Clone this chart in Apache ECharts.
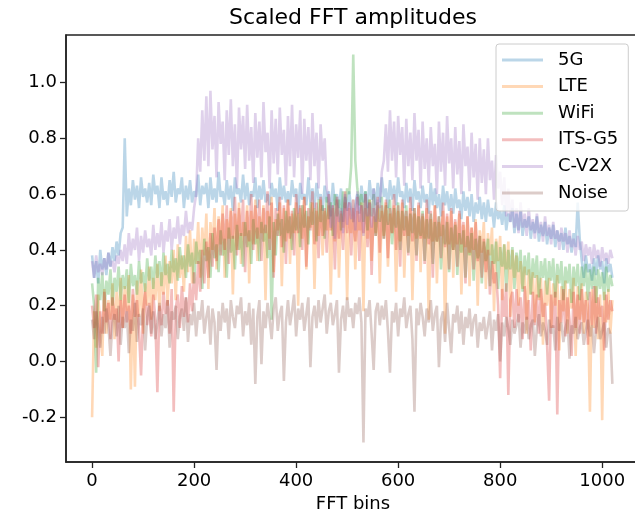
<!DOCTYPE html>
<html>
<head>
<meta charset="utf-8">
<script src="https://cdn.jsdelivr.net/npm/echarts@6/dist/echarts.min.js"></script>
<style>
  html, body { margin: 0; padding: 0; background: #fff; }
  #chart { width: 635px; height: 516px; }
</style>
</head>
<body>
<div id="chart"></div>
<script>
// FFT bins sampled every 4 bins (0 .. 1020), one row = 64 bins
const BIN_STEP = 4;
const seriesNames = ['5G', 'LTE', 'WiFi', 'ITS-G5', 'C-V2X', 'Noise'];
const xTicks = [0, 200, 400, 600, 800, 1000];
const yTicks = [-0.2, 0.0, 0.2, 0.4, 0.6, 0.8, 1.0];

const fiveG = [
  0.38, 0.30, 0.36, 0.28, 0.40, 0.33, 0.37, 0.31, 0.39, 0.34, 0.41, 0.36, 0.43, 0.38, 0.46, 0.48,
  0.80, 0.52, 0.62, 0.56, 0.65, 0.58, 0.63, 0.55, 0.66, 0.59, 0.62, 0.57, 0.64, 0.56, 0.67, 0.60,
  0.63, 0.55, 0.66, 0.58, 0.61, 0.56, 0.65, 0.59, 0.68, 0.57, 0.62, 0.60, 0.66, 0.55, 0.63, 0.58,
  0.65, 0.57, 0.61, 0.59, 0.67, 0.56, 0.63, 0.60, 0.64, 0.55, 0.66, 0.58, 0.62, 0.57, 0.68, 0.59,
  0.61, 0.56, 0.65, 0.58, 0.63, 0.54, 0.66, 0.60, 0.62, 0.57, 0.67, 0.58, 0.64, 0.56, 0.61, 0.59,
  0.66, 0.55, 0.63, 0.58, 0.65, 0.57, 0.60, 0.56, 0.64, 0.59, 0.62, 0.54, 0.66, 0.58, 0.63, 0.57,
  0.61, 0.56, 0.65, 0.59, 0.62, 0.53, 0.64, 0.58, 0.60, 0.56, 0.66, 0.57, 0.62, 0.55, 0.64, 0.58,
  0.60, 0.54, 0.63, 0.57, 0.61, 0.52, 0.64, 0.56, 0.60, 0.55, 0.62, 0.50, 0.59, 0.54, 0.61, 0.55,
  0.50, 0.56, 0.60, 0.53, 0.63, 0.57, 0.61, 0.55, 0.65, 0.58, 0.62, 0.56, 0.64, 0.57, 0.66, 0.59,
  0.62, 0.55, 0.65, 0.58, 0.63, 0.56, 0.66, 0.59, 0.61, 0.55, 0.64, 0.57, 0.62, 0.54, 0.65, 0.58,
  0.61, 0.55, 0.63, 0.57, 0.60, 0.53, 0.64, 0.56, 0.62, 0.55, 0.60, 0.52, 0.63, 0.56, 0.61, 0.54,
  0.60, 0.53, 0.62, 0.55, 0.58, 0.51, 0.61, 0.54, 0.59, 0.52, 0.60, 0.50, 0.57, 0.53, 0.59, 0.51,
  0.57, 0.50, 0.58, 0.52, 0.55, 0.48, 0.57, 0.51, 0.54, 0.49, 0.56, 0.47, 0.53, 0.50, 0.55, 0.46,
  0.53, 0.47, 0.54, 0.45, 0.51, 0.48, 0.52, 0.44, 0.50, 0.46, 0.52, 0.43, 0.49, 0.45, 0.50, 0.42,
  0.48, 0.44, 0.49, 0.41, 0.47, 0.43, 0.46, 0.40, 0.48, 0.42, 0.45, 0.39, 0.46, 0.41, 0.57, 0.44,
  0.36, 0.30, 0.38, 0.32, 0.35, 0.29, 0.37, 0.31, 0.38, 0.33, 0.36, 0.28, 0.37, 0.32, 0.35, 0.30
];

const lte = [
  -0.20, 0.18, 0.05, 0.24, 0.12, 0.02, 0.26, 0.10, 0.22, 0.15, 0.28, 0.08, 0.25, 0.14, 0.30, 0.12,
  0.27, 0.18, 0.31, -0.10, 0.24, -0.09, 0.29, 0.16, 0.33, 0.10, 0.28, 0.20, 0.34, 0.15, 0.30, 0.22,
  0.35, 0.18, 0.32, 0.24, 0.38, 0.20, 0.36, 0.28, 0.40, 0.22, 0.42, 0.30, 0.38, 0.25, 0.45, 0.32,
  0.47, 0.28, 0.44, 0.35, 0.50, 0.30, 0.48, 0.38, 0.53, 0.26, 0.50, 0.40, 0.55, 0.33, 0.52, 0.42,
  0.56, 0.30, 0.51, 0.44, 0.55, 0.24, 0.53, 0.40, 0.57, 0.35, 0.50, 0.45, 0.56, 0.28, 0.54, 0.42,
  0.58, 0.36, 0.52, 0.46, 0.56, 0.22, 0.54, 0.44, 0.59, 0.32, 0.51, 0.47, 0.57, 0.27, 0.55, 0.43,
  0.58, 0.35, 0.53, 0.46, 0.57, 0.20, 0.55, 0.44, 0.59, 0.33, 0.52, 0.48, 0.57, 0.26, 0.54, 0.45,
  0.58, 0.38, 0.54, 0.47, 0.56, 0.24, 0.55, 0.43, 0.59, 0.30, 0.53, 0.48, 0.57, 0.22, 0.55, 0.46,
  0.58, 0.33, 0.54, 0.47, 0.57, 0.18, 0.55, 0.44, 0.58, 0.36, 0.52, 0.46, 0.56, 0.28, 0.54, 0.45,
  0.57, 0.34, 0.53, 0.46, 0.56, 0.25, 0.54, 0.43, 0.57, 0.30, 0.52, 0.45, 0.55, 0.22, 0.53, 0.44,
  0.56, 0.32, 0.52, 0.44, 0.55, 0.15, 0.51, 0.43, 0.56, 0.28, 0.50, 0.45, 0.54, 0.10, 0.52, 0.42,
  0.54, 0.30, 0.50, 0.42, 0.53, 0.24, 0.49, 0.41, 0.52, 0.27, 0.48, 0.40, 0.51, 0.20, 0.47, 0.39,
  0.50, 0.26, 0.46, 0.38, 0.48, 0.18, 0.44, 0.36, 0.45, 0.22, 0.42, 0.33, 0.43, 0.16, 0.40, 0.30,
  0.38, 0.20, 0.36, 0.26, 0.34, 0.10, 0.33, 0.24, 0.32, 0.14, 0.31, 0.22, 0.30, 0.06, 0.29, 0.20,
  0.30, 0.12, 0.28, 0.20, 0.31, 0.04, 0.27, 0.18, 0.29, 0.10, 0.26, 0.19, 0.30, 0.02, 0.27, 0.15,
  0.28, 0.10, 0.25, 0.20, -0.18, 0.26, 0.12, 0.27, 0.08, 0.24, -0.21, 0.25, 0.14, 0.26, 0.10, 0.22
];

const wifi = [
  0.28, 0.20, -0.04, 0.30, 0.22, 0.32, 0.18, 0.29, 0.24, 0.33, 0.20, 0.30, 0.25, 0.34, 0.22, 0.31,
  0.26, 0.33, 0.21, 0.35, 0.27, 0.31, 0.24, 0.36, 0.28, 0.32, 0.25, 0.37, 0.29, 0.34, 0.26, 0.38,
  0.30, 0.36, 0.27, 0.39, 0.31, 0.35, 0.28, 0.40, 0.32, 0.37, 0.29, 0.41, 0.33, 0.38, 0.30, 0.42,
  0.34, 0.39, 0.28, 0.43, 0.35, 0.40, 0.26, 0.44, 0.36, 0.41, 0.30, 0.46, 0.37, 0.42, 0.32, 0.47,
  0.38, 0.44, 0.30, 0.48, 0.39, 0.45, 0.33, 0.49, 0.40, 0.46, 0.34, 0.50, 0.41, 0.47, 0.35, 0.51,
  0.42, 0.48, 0.36, 0.50, 0.43, 0.49, 0.37, 0.52, 0.15, 0.50, 0.38, 0.53, 0.45, 0.51, 0.39, 0.54,
  0.46, 0.52, 0.40, 0.55, 0.47, 0.53, 0.41, 0.56, 0.48, 0.54, 0.42, 0.57, 0.49, 0.55, 0.43, 0.58,
  0.50, 0.56, 0.44, 0.59, 0.51, 0.57, 0.45, 0.60, 0.52, 0.58, 0.47, 0.61, 0.55, 0.62, 0.60, 0.70,
  1.10, 0.72, 0.62, 0.56, 0.60, 0.50, 0.61, 0.47, 0.58, 0.52, 0.60, 0.45, 0.57, 0.50, 0.59, 0.44,
  0.56, 0.49, 0.58, 0.42, 0.55, 0.48, 0.57, 0.40, 0.54, 0.47, 0.56, 0.39, 0.53, 0.46, 0.55, 0.38,
  0.52, 0.45, 0.54, 0.36, 0.51, 0.44, 0.53, 0.35, 0.50, 0.43, 0.52, 0.33, 0.49, 0.42, 0.50, 0.32,
  0.48, 0.40, 0.49, 0.31, 0.46, 0.39, 0.47, 0.30, 0.45, 0.38, 0.46, 0.29, 0.44, 0.37, 0.45, 0.28,
  0.43, 0.36, 0.44, 0.27, 0.42, 0.35, 0.43, 0.26, 0.41, 0.34, 0.42, 0.25, 0.40, 0.33, 0.41, 0.26,
  0.39, 0.32, 0.40, 0.25, 0.38, 0.31, 0.39, 0.24, 0.37, 0.30, 0.38, 0.23, 0.36, 0.30, 0.37, 0.24,
  0.36, 0.29, 0.37, 0.23, 0.35, 0.28, 0.36, 0.22, 0.34, 0.28, 0.35, 0.21, 0.34, 0.27, 0.35, 0.22,
  0.34, 0.27, 0.35, 0.22, 0.33, 0.26, 0.34, 0.21, 0.33, 0.26, 0.32, 0.22, 0.34, 0.25, 0.31, 0.27
];

const itsG5 = [
  0.20, 0.12, 0.24, -0.02, 0.18, 0.10, 0.25, 0.14, 0.21, 0.08, 0.23, 0.15, 0.19, 0.00, 0.22, 0.12,
  0.24, 0.14, 0.20, 0.10, 0.26, 0.16, 0.22, 0.11, -0.05, 0.18, 0.25, 0.13, 0.21, 0.09, 0.24, 0.15,
  -0.11, 0.20, 0.13, 0.25, 0.17, 0.22, 0.10, 0.26, -0.18, 0.19, 0.24, 0.12, 0.27, 0.16, 0.23, 0.14,
  0.28, 0.18, 0.32, 0.22, 0.36, 0.25, 0.40, 0.28, 0.43, 0.30, 0.46, 0.34, 0.48, 0.36, 0.51, 0.38,
  0.53, 0.40, 0.56, 0.35, 0.54, 0.44, 0.59, 0.38, 0.55, 0.45, 0.58, 0.32, 0.54, 0.43, 0.60, 0.40,
  0.56, 0.44, 0.58, 0.36, 0.55, 0.46, 0.61, 0.40, 0.57, 0.30, 0.55, 0.45, 0.59, 0.41, 0.56, 0.35,
  0.58, 0.44, 0.54, 0.38, 0.60, 0.46, 0.56, 0.40, 0.59, 0.34, 0.55, 0.47, 0.61, 0.42, 0.57, 0.37,
  0.59, 0.45, 0.55, 0.39, 0.60, 0.47, 0.56, 0.33, 0.58, 0.44, 0.54, 0.40, 0.61, 0.46, 0.57, 0.38,
  0.55, 0.43, 0.59, 0.36, 0.56, 0.46, 0.60, 0.41, 0.57, 0.31, 0.55, 0.45, 0.59, 0.39, 0.56, 0.44,
  0.58, 0.37, 0.55, 0.46, 0.60, 0.40, 0.56, 0.34, 0.58, 0.45, 0.54, 0.38, 0.59, 0.43, 0.55, 0.36,
  0.57, 0.44, 0.53, 0.35, 0.58, 0.42, 0.54, 0.30, 0.56, 0.43, 0.52, 0.37, 0.57, 0.41, 0.53, 0.33,
  0.55, 0.40, 0.51, 0.34, 0.54, 0.42, 0.50, 0.28, 0.52, 0.39, 0.48, 0.33, 0.50, 0.36, 0.45, 0.30,
  0.44, 0.32, 0.40, 0.24, 0.36, 0.28, 0.32, 0.20, -0.06, 0.26, 0.16, 0.28, -0.12, 0.22, 0.25, 0.12,
  0.26, 0.14, 0.23, 0.08, 0.27, 0.15, 0.22, 0.04, 0.25, 0.13, 0.24, 0.10, 0.26, 0.16, 0.21, 0.06,
  -0.14, 0.24, 0.12, 0.25, -0.19, 0.22, 0.14, 0.26, 0.09, 0.23, 0.15, 0.02, 0.25, 0.12, 0.24, 0.10,
  0.26, 0.14, 0.22, 0.06, 0.25, 0.13, 0.27, 0.10, 0.23, 0.16, 0.20, 0.04, 0.24, 0.15, 0.22, 0.18
];

const cv2x = [
  0.36, 0.30, 0.38, 0.32, 0.35, 0.31, 0.37, 0.33, 0.39, 0.34, 0.36, 0.32, 0.38, 0.35, 0.40, 0.36,
  0.42, 0.35, 0.46, 0.38, 0.44, 0.40, 0.48, 0.36, 0.45, 0.39, 0.47, 0.41, 0.44, 0.38, 0.49, 0.40,
  0.46, 0.41, 0.50, 0.39, 0.47, 0.43, 0.51, 0.40, 0.48, 0.44, 0.52, 0.42, 0.49, 0.45, 0.54, 0.46,
  0.50, 0.47, 0.55, 0.60, 0.80, 0.68, 0.90, 0.72, 0.95, 0.70, 0.97, 0.76, 0.88, 0.66, 0.93, 0.78,
  0.86, 0.65, 0.90, 0.74, 0.94, 0.70, 0.85, 0.62, 0.91, 0.76, 0.88, 0.69, 0.92, 0.72, 0.84, 0.64,
  0.89, 0.73, 0.86, 0.66, 0.93, 0.75, 0.82, 0.62, 0.90, 0.71, 0.87, 0.67, 0.91, 0.74, 0.83, 0.63,
  0.88, 0.70, 0.92, 0.66, 0.85, 0.73, 0.90, 0.60, 0.87, 0.72, 0.84, 0.65, 0.89, 0.70, 0.82, 0.62,
  0.85, 0.72, 0.80, 0.62, 0.58, 0.48, 0.56, 0.44, 0.59, 0.50, 0.55, 0.46, 0.60, 0.49, 0.57, 0.51,
  0.58, 0.47, 0.61, 0.50, 0.56, 0.45, 0.60, 0.52, 0.57, 0.48, 0.62, 0.50, 0.58, 0.55, 0.68, 0.72,
  0.85, 0.68, 0.90, 0.72, 0.86, 0.66, 0.88, 0.74, 0.84, 0.63, 0.87, 0.70, 0.82, 0.65, 0.89, 0.72,
  0.83, 0.62, 0.86, 0.69, 0.80, 0.64, 0.84, 0.70, 0.78, 0.60, 0.86, 0.68, 0.82, 0.63, 0.88, 0.71,
  0.80, 0.62, 0.84, 0.67, 0.79, 0.60, 0.85, 0.70, 0.77, 0.61, 0.82, 0.66, 0.78, 0.58, 0.80, 0.64,
  0.76, 0.60, 0.80, 0.65, 0.72, 0.58, 0.74, 0.62, 0.68, 0.56, 0.66, 0.52, 0.62, 0.50, 0.58, 0.48,
  0.55, 0.46, 0.57, 0.48, 0.53, 0.45, 0.55, 0.47, 0.51, 0.44, 0.53, 0.46, 0.50, 0.43, 0.52, 0.45,
  0.49, 0.42, 0.50, 0.44, 0.47, 0.40, 0.48, 0.43, 0.46, 0.39, 0.47, 0.41, 0.44, 0.38, 0.45, 0.40,
  0.43, 0.36, 0.42, 0.38, 0.41, 0.35, 0.42, 0.37, 0.40, 0.34, 0.41, 0.36, 0.39, 0.35, 0.40, 0.37
];

const noise = [
  0.15, 0.08, 0.18, 0.12, 0.05, 0.16, 0.10, 0.19, 0.13, 0.02, 0.14, 0.17, 0.09, 0.20, 0.06, 0.16,
  0.12, 0.18, 0.03, 0.15, 0.11, 0.21, 0.07, 0.17, 0.13, 0.19, 0.04, 0.16, 0.20, 0.10, 0.18, 0.08,
  0.14, 0.21, 0.09, 0.17, 0.12, 0.22, 0.05, 0.18, 0.15, 0.20, 0.08, 0.16, 0.19, 0.11, 0.23, 0.07,
  0.17, 0.13, 0.21, 0.09, 0.18, 0.15, 0.22, 0.10, 0.16, 0.20, 0.06, 0.19, 0.14, -0.03, 0.18, 0.11,
  0.21, 0.14, 0.19, 0.08, 0.22, 0.16, 0.12, 0.20, 0.17, 0.23, 0.09, 0.18, 0.13, 0.21, 0.06, 0.19,
  -0.08, 0.16, 0.22, -0.01, 0.18, 0.12, 0.21, 0.15, 0.08, 0.19, 0.23, 0.11, 0.17, 0.20, -0.07, 0.14,
  0.22, 0.13, 0.18, 0.24, 0.09, 0.19, 0.15, 0.21, 0.11, 0.17, 0.23, -0.02, 0.16, 0.20, 0.12, 0.22,
  0.14, 0.19, 0.24, 0.10, 0.18, 0.21, 0.13, 0.17, 0.22, -0.04, 0.15, 0.20, 0.11, 0.23, 0.16, 0.19,
  0.12, 0.21, 0.17, 0.23, 0.14, -0.29, 0.19, 0.16, 0.22, 0.10, -0.03, 0.18, 0.21, 0.13, 0.20, 0.15,
  0.22, 0.11, -0.04, 0.18, 0.14, 0.21, 0.09, 0.19, 0.16, 0.23, 0.12, 0.17, 0.20, 0.08, -0.18, 0.19,
  0.13, 0.21, 0.16, 0.09, 0.19, 0.14, 0.22, 0.11, 0.17, 0.20, -0.02, 0.15, 0.18, 0.07, 0.21, 0.12,
  0.03, 0.17, 0.14, 0.20, 0.10, 0.18, 0.06, 0.16, 0.12, 0.19, 0.09, 0.15, 0.17, 0.05, 0.14, 0.11,
  0.16, 0.08, 0.13, 0.18, 0.04, 0.15, 0.11, 0.17, 0.00, 0.14, 0.09, 0.16, 0.12, 0.06, 0.15, 0.10,
  0.13, 0.17, 0.05, 0.14, 0.10, 0.16, 0.08, 0.13, 0.15, 0.02, 0.12, 0.17, 0.09, 0.14, 0.11, 0.06,
  0.15, 0.10, 0.13, 0.04, 0.16, 0.11, 0.14, 0.07, 0.12, 0.15, 0.01, 0.13, 0.10, 0.16, 0.08, 0.12,
  0.14, 0.06, 0.11, 0.15, 0.09, 0.13, 0.03, 0.12, 0.16, 0.08, 0.11, 0.14, 0.05, 0.12, 0.10, -0.08
];

const allValues = [fiveG, lte, wifi, itsG5, cv2x, noise];
// matplotlib tab10 with alpha 0.3
const colors = [
  'rgba(31,119,180,0.3)', 'rgba(255,127,14,0.3)', 'rgba(44,160,44,0.3)',
  'rgba(214,39,40,0.3)', 'rgba(148,103,189,0.3)', 'rgba(140,86,75,0.3)'
];

const FONT = 'DejaVu Sans';
const chart = echarts.init(document.getElementById('chart'), null, { renderer: 'canvas' });

chart.setOption({
  animation: false,
  backgroundColor: '#fff',
  title: {
    text: 'Scaled FFT amplitudes',
    left: 353,
    textAlign: 'center',
    top: 7,
    padding: 0,
    textStyle: { fontFamily: FONT, fontSize: 22, fontWeight: 'normal', color: '#000' }
  },
  legend: {
    orient: 'vertical',
    left: 496,
    top: 44,
    padding: [6, 10, 8, 6],
    itemGap: 6.6,
    itemWidth: 41,
    itemHeight: 3,
    icon: 'rect',
    backgroundColor: 'rgba(255,255,255,0.8)',
    borderColor: '#cccccc',
    borderWidth: 1,
    borderRadius: 3,
    data: seriesNames,
    textStyle: { fontFamily: FONT, fontSize: 18, color: '#000', lineHeight: 20, padding: [0, 0, 0, 10] }
  },
  grid: {
    left: 66,
    top: 35,
    width: 574,
    height: 427,
    outerBoundsMode: 'none',
    show: true,
    borderColor: '#222',
    borderWidth: 1.5
  },
  xAxis: {
    type: 'value',
    min: -51.15,
    max: 1074.15,
    name: 'FFT bins',
    nameLocation: 'middle',
    nameGap: 28,
    nameTextStyle: { fontFamily: FONT, fontSize: 18, color: '#000' },
    axisLine: { show: true, onZero: false, lineStyle: { color: '#222', width: 1.5 } },
    axisTick: { show: true, length: 6, customValues: xTicks, lineStyle: { color: '#222', width: 1.3 } },
    axisLabel: {
      customValues: xTicks,
      margin: 10,
      fontFamily: FONT,
      fontSize: 18,
      color: '#000',
      formatter: v => String(v)
    },
    splitLine: { show: false }
  },
  yAxis: {
    type: 'value',
    min: -0.36,
    max: 1.17,
    axisLine: { show: true, onZero: false, lineStyle: { color: '#222', width: 1.5 } },
    axisTick: { show: true, length: 6, customValues: yTicks, lineStyle: { color: '#222', width: 1.3 } },
    axisLabel: {
      customValues: yTicks,
      margin: 9,
      fontFamily: FONT,
      fontSize: 18,
      color: '#000',
      formatter: v => v.toFixed(1)
    },
    splitLine: { show: false }
  },
  series: seriesNames.map((name, k) => ({
    name: name,
    type: 'line',
    showSymbol: false,
    symbol: 'none',
    color: colors[k],
    lineStyle: { width: 2.6, color: colors[k] },
    itemStyle: { color: colors[k] },
    data: allValues[k].map((v, i) => [i * BIN_STEP, v])
  }))
});
</script>
</body>
</html>
